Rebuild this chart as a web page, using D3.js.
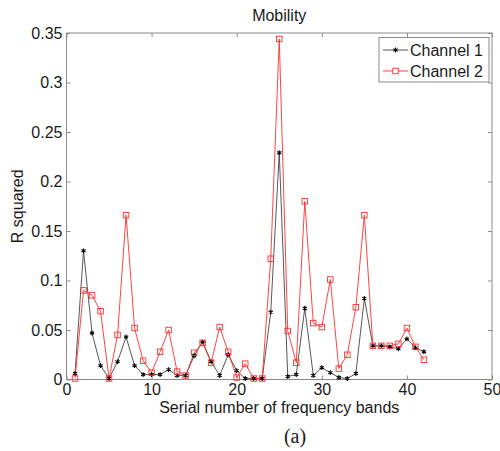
<!DOCTYPE html>
<html>
<head>
<meta charset="utf-8">
<script src="https://cdn.jsdelivr.net/npm/d3@7"></script>
<style>
  html, body { margin: 0; padding: 0; background: #fff; }
  svg { display: block; font-family: Arial, "Liberation Sans", sans-serif; }
</style>
</head>
<body>
<svg id="chart" width="500" height="451"></svg>
<script>
// Frequency band index for each measurement
const bands = d3.range(1, 43);

// R squared of the mobility feature per band
const channel1 = [
  0.006, 0.130, 0.047, 0.014, 0.001, 0.018, 0.043, 0.014, 0.005, 0.005,
  0.005, 0.010, 0.004, 0.004, 0.024, 0.038, 0.018, 0.004, 0.025, 0.009,
  0.001, 0.001, 0.001, 0.068, 0.229, 0.003, 0.005, 0.072, 0.004, 0.012,
  0.007, 0.002, 0.001, 0.006, 0.082, 0.034, 0.034, 0.033, 0.031, 0.041,
  0.032, 0.028
];
const channel2 = [
  0.001, 0.090, 0.085, 0.069, 0.001, 0.045, 0.166, 0.052, 0.019, 0.007,
  0.028, 0.050, 0.008, 0.004, 0.027, 0.037, 0.017, 0.053, 0.028, 0.002,
  0.016, 0.001, 0.001, 0.122, 0.344, 0.049, 0.017, 0.180, 0.057, 0.053,
  0.101, 0.011, 0.025, 0.073, 0.166, 0.034, 0.034, 0.034, 0.036, 0.052,
  0.033, 0.020
];

const seriesNames = ["Channel 1", "Channel 2"];
const xTicks = [0, 10, 20, 30, 40, 50];
const yTicks = [0, 0.05, 0.1, 0.15, 0.2, 0.25, 0.3, 0.35];
const yTickLabels = ["0", "0.05", "0.1", "0.15", "0.2", "0.25", "0.3", "0.35"];

const svg = d3.select("#chart");
const plotLeft = 66.5, plotRight = 492, plotTop = 33, plotBottom = 379.5;
const axisColor = "#8a8a8a";
const textColor = "#1a1a1a";

const x = d3.scaleLinear().domain([0, 50]).range([plotLeft, plotRight]);
const y = d3.scaleLinear().domain([0, 0.35]).range([plotBottom, plotTop]);

// Plot box
svg.append("rect")
  .attr("x", plotLeft).attr("y", plotTop)
  .attr("width", plotRight - plotLeft).attr("height", plotBottom - plotTop)
  .attr("fill", "none").attr("stroke", axisColor).attr("stroke-width", 1);

// Axes with inward ticks
function styleAxis(g) {
  g.select(".domain").remove();
  g.selectAll(".tick line").attr("stroke", axisColor);
  g.selectAll(".tick text")
    .attr("fill", textColor)
    .attr("font-size", 16)
    .attr("font-family", "Arial, 'Liberation Sans', sans-serif");
}

svg.append("g")
  .attr("transform", `translate(0,${plotBottom})`)
  .call(d3.axisBottom(x).tickValues(xTicks).tickFormat(d3.format("d"))
    .tickSizeInner(-4).tickSizeOuter(0).tickPadding(5))
  .call(styleAxis)
  .call(g => g.selectAll(".tick text").attr("dy", "0.75em").attr("y", 3));

svg.append("g")
  .attr("transform", `translate(0,${plotTop})`)
  .call(d3.axisTop(x).tickValues(xTicks).tickFormat("")
    .tickSizeInner(-4).tickSizeOuter(0))
  .call(styleAxis);

svg.append("g")
  .attr("transform", `translate(${plotLeft},0)`)
  .call(d3.axisLeft(y).tickValues(yTicks)
    .tickFormat((d, i) => yTickLabels[i])
    .tickSizeInner(-4).tickSizeOuter(0).tickPadding(4))
  .call(styleAxis)
  .call(g => g.selectAll(".tick text").attr("x", -4));

svg.append("g")
  .attr("transform", `translate(${plotRight},0)`)
  .call(d3.axisRight(y).tickValues(yTicks).tickFormat("")
    .tickSizeInner(-4).tickSizeOuter(0))
  .call(styleAxis);

// Series
const line = d3.line().x(d => x(d[0])).y(d => y(d[1]));
const data1 = bands.map((b, i) => [b, channel1[i]]);
const data2 = bands.map((b, i) => [b, channel2[i]]);

const plot = svg.append("g");

plot.append("path").datum(data1)
  .attr("d", line).attr("fill", "none")
  .attr("stroke", "#444").attr("stroke-width", 0.9);

plot.append("path").datum(data2)
  .attr("d", line).attr("fill", "none")
  .attr("stroke", "#ff3030").attr("stroke-width", 0.9);

const star = d3.symbol().type(d3.symbolAsterisk).size(16);
plot.selectAll(".m1").data(data1).join("path")
  .attr("class", "m1")
  .attr("transform", d => `translate(${x(d[0])},${y(d[1])})`)
  .attr("d", star)
  .attr("fill", "none").attr("stroke", "#000").attr("stroke-width", 1.1);

const sq = 5.5;
plot.selectAll(".m2").data(data2).join("rect")
  .attr("class", "m2")
  .attr("x", d => x(d[0]) - sq / 2).attr("y", d => y(d[1]) - sq / 2)
  .attr("width", sq).attr("height", sq)
  .attr("fill", "none").attr("stroke", "#ff3030").attr("stroke-width", 0.9);

// Legend
const lg = svg.append("g");
lg.append("rect")
  .attr("x", 379).attr("y", 37.5).attr("width", 110).attr("height", 44.5)
  .attr("fill", "#fff").attr("stroke", axisColor).attr("stroke-width", 1);

const legendRows = [
  { name: seriesNames[0], color: "#444", yPos: 50 },
  { name: seriesNames[1], color: "#ff3030", yPos: 71 }
];
legendRows.forEach((r, i) => {
  lg.append("line")
    .attr("x1", 383).attr("x2", 408).attr("y1", r.yPos).attr("y2", r.yPos)
    .attr("stroke", r.color).attr("stroke-width", 0.9);
  if (i === 0) {
    lg.append("path").attr("transform", `translate(395.5,${r.yPos})`)
      .attr("d", star).attr("fill", "none").attr("stroke", "#000").attr("stroke-width", 1.1);
  } else {
    lg.append("rect").attr("x", 395.5 - sq / 2).attr("y", r.yPos - sq / 2)
      .attr("width", sq).attr("height", sq)
      .attr("fill", "#fff").attr("stroke", "#ff3030").attr("stroke-width", 0.9);
  }
  lg.append("text")
    .attr("x", 410).attr("y", r.yPos).attr("dy", "0.36em")
    .attr("font-size", 16).attr("fill", textColor)
    .text(r.name);
});

// Titles
svg.append("text")
  .attr("x", (plotLeft + plotRight) / 2).attr("y", 20.5)
  .attr("text-anchor", "middle").attr("font-size", 16).attr("fill", textColor)
  .text("Mobility");

svg.append("text")
  .attr("x", (plotLeft + plotRight) / 2).attr("y", 413)
  .attr("text-anchor", "middle").attr("font-size", 16).attr("fill", textColor)
  .text("Serial number of frequency bands");

svg.append("text")
  .attr("transform", `translate(23,${(plotTop + plotBottom) / 2}) rotate(-90)`)
  .attr("text-anchor", "middle").attr("font-size", 16).attr("fill", textColor)
  .text("R squared");

svg.append("text")
  .attr("x", 295).attr("y", 443)
  .attr("text-anchor", "middle").attr("font-size", 20)
  .attr("font-family", "'Liberation Serif', 'Times New Roman', serif")
  .attr("fill", textColor)
  .text("(a)");
</script>
</body>
</html>
